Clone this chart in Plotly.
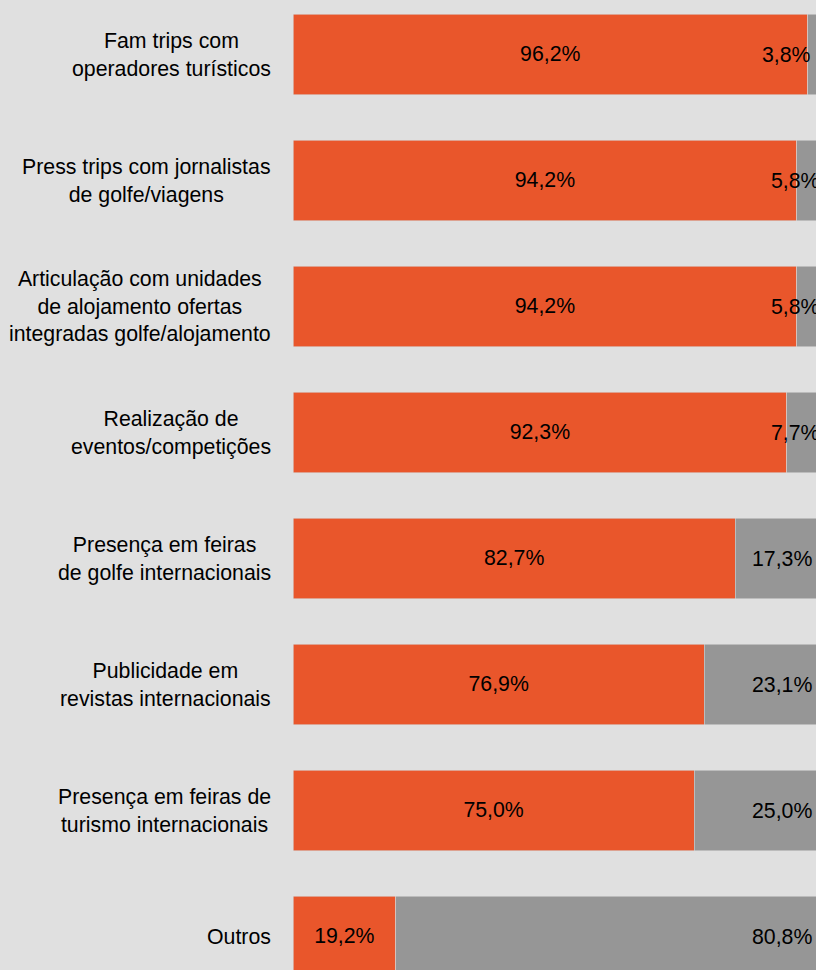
import plotly.graph_objects as go

# Survey results: share of respondents per promotion action
categories = [
    "Fam trips com<br>operadores turísticos",
    "Press trips com jornalistas<br>de golfe/viagens",
    "Articulação com unidades<br>de alojamento ofertas<br>integradas golfe/alojamento",
    "Realização de<br>eventos/competições",
    "Presença em feiras<br>de golfe internacionais",
    "Publicidade em<br>revistas internacionais",
    "Presença em feiras de<br>turismo internacionais",
    "Outros",
]
sim_values = [96.2, 94.2, 94.2, 92.3, 82.7, 76.9, 75.0, 19.2]
nao_values = [3.8, 5.8, 5.8, 7.7, 17.3, 23.1, 25.0, 80.8]

ORANGE = "#E9562B"
GREY = "#969696"
BG = "#E0E0E0"
FONT = "Liberation Sans, Arial, sans-serif"
FS = 21.3

# horizontal placement (x units) of the grey segment labels
grey_label_x = [92.3, 94.0, 94.0, 94.0, 91.4, 91.4, 91.4, 91.4]

ypos = list(range(len(categories)))

fig = go.Figure()
fig.add_trace(go.Bar(
    y=ypos, x=sim_values, orientation="h", width=0.635,
    marker=dict(color=ORANGE, line=dict(color="#d6d6d6", width=0.6)),
    text=[f"{v:.1f}".replace(".", ",") + "%" for v in sim_values],
    textposition="inside", insidetextanchor="middle",
    textfont=dict(family=FONT, size=FS, color="black"),
    hoverinfo="skip", cliponaxis=True,
))
fig.add_trace(go.Bar(
    y=ypos, x=nao_values, orientation="h", width=0.635,
    marker=dict(color=GREY, line=dict(color="#d6d6d6", width=0.6)),
    hoverinfo="skip",
))

annotations = []
for i, (cat, nv, gx) in enumerate(zip(categories, nao_values, grey_label_x)):
    annotations.append(dict(
        xref="paper", yref="y", x=0, y=i, xanchor="right", yanchor="middle",
        xshift=-20, text=cat, align="center", showarrow=False,
        font=dict(family=FONT, size=FS, color="black"),
    ))
    annotations.append(dict(
        xref="x", yref="y", x=gx, y=i, xanchor="center", yanchor="middle",
        text=f"{nv:.1f}".replace(".", ",") + "%", showarrow=False,
        font=dict(family=FONT, size=FS, color="black"),
    ))

fig.update_layout(
    barmode="stack",
    width=816, height=970,
    margin=dict(l=293, r=0, t=0, b=0),
    paper_bgcolor=BG, plot_bgcolor=BG,
    showlegend=False,
    xaxis=dict(range=[0, 97.76], visible=False, fixedrange=True),
    yaxis=dict(range=[7.2659, -0.4325], visible=False, fixedrange=True),
    annotations=annotations,
    uniformtext=dict(minsize=FS, mode="show"),
)

fig.write_html("out.html", config={"displayModeBar": False})
